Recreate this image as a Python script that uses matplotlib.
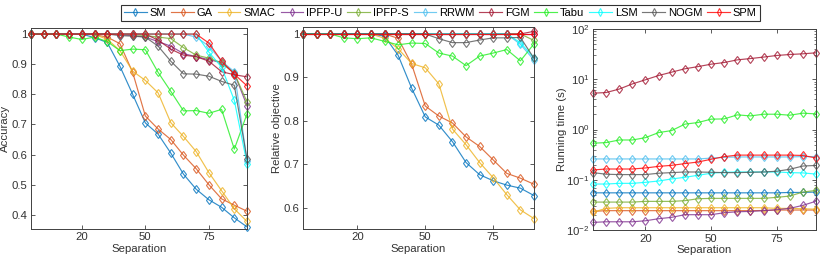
import numpy as np
import matplotlib
matplotlib.use("Agg")
import matplotlib.pyplot as plt

plt.rcParams['font.family'] = ['Liberation Sans', 'DejaVu Sans']

# ---------------- data ----------------
sep_idx = np.arange(1, 19)
xtick_pos = [5, 10, 15]
xtick_labels = ['20', '50', '75']

methods = ['SM', 'GA', 'SMAC', 'IPFP-U', 'IPFP-S', 'RRWM', 'FGM', 'Tabu', 'LSM', 'NOGM', 'SPM']
colors = ['#0072BD', '#D95319', '#EDB120', '#7E2F8E', '#77AC30', '#4DBEEE',
          '#A2142F', '#22EE22', '#00FFFF', '#555555', '#FF0000']

acc_SM = [1, 1, 1, 1, 1, 0.988, 0.972, 0.893, 0.80, 0.705, 0.668, 0.605, 0.535, 0.485, 0.45, 0.425, 0.39, 0.36]
acc_GA = [1, 1, 1, 1, 1, 0.998, 0.99, 0.968, 0.873, 0.728, 0.685, 0.65, 0.598, 0.553, 0.50, 0.453, 0.432, 0.412]
acc_SMAC = [1, 1, 1, 1, 1, 0.998, 0.983, 0.945, 0.877, 0.846, 0.805, 0.706, 0.66, 0.61, 0.54, 0.48, 0.42, 0.378]
acc_IPFPU = [1, 1, 1, 1, 1, 1, 1, 0.998, 0.995, 0.99, 0.975, 0.96, 0.935, 0.925, 0.915, 0.905, 0.87, 0.762]
acc_IPFPS = [1, 1, 1, 1, 1, 1, 1, 1, 0.998, 0.995, 0.99, 0.985, 0.955, 0.93, 0.92, 0.905, 0.87, 0.775]
acc_RRWM = [1, 1, 1, 1, 1, 1, 1, 1, 1, 1, 1, 1, 1, 0.99, 0.96, 0.91, 0.875, 0.58]
acc_FGM = [1, 1, 1, 1, 1, 1, 1, 1, 1, 1, 0.98, 0.95, 0.93, 0.925, 0.91, 0.875, 0.865, 0.858]
acc_Tabu = [1, 1, 1, 0.99, 0.982, 0.99, 0.975, 0.945, 0.95, 0.948, 0.873, 0.81, 0.745, 0.746, 0.737, 0.75, 0.618, 0.735]
acc_LSM = [1, 1, 1, 1, 1, 1, 1, 1, 1, 1, 1, 1, 1, 1, 0.94, 0.89, 0.78, 0.57]
acc_NOGM = [1, 1, 1, 1, 1, 1, 1, 0.995, 0.993, 0.99, 0.96, 0.91, 0.868, 0.867, 0.86, 0.843, 0.83, 0.585]
acc_SPM = [1, 1, 1, 1, 1, 1, 1, 1, 1, 1, 1, 1, 1, 1, 0.97, 0.91, 0.867, 0.828]

obj_SM = [1, 1, 1, 1, 1, 1, 0.995, 0.951, 0.875, 0.809, 0.79, 0.752, 0.704, 0.676, 0.662, 0.652, 0.645, 0.628]
obj_GA = [1, 1, 1, 1, 1, 1, 1, 0.99, 0.93, 0.834, 0.811, 0.795, 0.763, 0.741, 0.71, 0.679, 0.668, 0.654]
obj_SMAC = [1, 1, 1, 1, 1, 1, 0.99, 0.966, 0.932, 0.922, 0.885, 0.781, 0.745, 0.704, 0.669, 0.63, 0.595, 0.575]
obj_IPFPU = [1, 1, 1, 1, 1, 1, 1, 1, 1, 1, 1, 1, 1, 1, 1, 1, 1, 1.0]
obj_IPFPS = [1, 1, 1, 1, 1, 1, 1, 1, 1, 1, 1, 1, 1, 1, 1, 1, 1, 0.985]
obj_RRWM = [1, 1, 1, 1, 1, 1, 1, 1, 1, 1, 1, 1, 1, 1, 1, 1, 0.976, 0.94]
obj_FGM = [1, 1, 1, 1, 1, 1, 1, 1, 1, 1, 1, 1, 1, 1, 1, 1, 1, 1.006]
obj_Tabu = [1, 1, 1, 0.991, 0.989, 0.991, 0.983, 0.975, 0.979, 0.978, 0.956, 0.949, 0.927, 0.949, 0.956, 0.964, 0.938, 0.977]
obj_LSM = [1, 1, 1, 1, 1, 1, 1, 1, 1, 1, 1, 1, 1, 1, 1, 1, 0.98, 0.945]
obj_NOGM = [1, 1, 1, 1, 1, 1, 1, 1, 1, 1, 0.989, 0.98, 0.98, 0.986, 0.991, 0.991, 0.992, 0.944]
obj_SPM = [1, 1, 1, 1, 1, 1, 1, 1, 1, 1, 1, 1, 1, 1, 1, 1, 1, 1]

rt_SM = [0.055, 0.055, 0.055, 0.055, 0.055, 0.055, 0.055, 0.055, 0.055, 0.055, 0.055, 0.055, 0.055, 0.055, 0.055, 0.056, 0.056, 0.057]
rt_GA = [0.0235, 0.0243, 0.0243, 0.0243, 0.0243, 0.0243, 0.0243, 0.0243, 0.0243, 0.0243, 0.0243, 0.0243, 0.0243, 0.0245, 0.025, 0.025, 0.025, 0.025]
rt_SMAC = [0.0226, 0.027, 0.0278, 0.0278, 0.0278, 0.0278, 0.0278, 0.0278, 0.0278, 0.0278, 0.0278, 0.0278, 0.0278, 0.0278, 0.027, 0.027, 0.0265, 0.026]
rt_IPFPU = [0.0142, 0.0146, 0.0146, 0.0146, 0.0153, 0.0168, 0.0179, 0.0202, 0.0202, 0.0202, 0.0221, 0.0231, 0.0235, 0.0243, 0.0254, 0.027, 0.031, 0.0375]
rt_IPFPS = [0.036, 0.036, 0.036, 0.036, 0.0372, 0.0372, 0.0372, 0.0384, 0.042, 0.0427, 0.0427, 0.0427, 0.0427, 0.0427, 0.0447, 0.0475, 0.057, 0.0615]
rt_RRWM = [0.26, 0.26, 0.26, 0.26, 0.26, 0.26, 0.26, 0.26, 0.26, 0.27, 0.28, 0.285, 0.285, 0.285, 0.285, 0.285, 0.29, 0.29]
rt_FGM = [5.3, 5.45, 6.4, 8.1, 9.8, 11.9, 13.9, 16.2, 17.9, 20.0, 21.6, 24.4, 25.9, 27.7, 29.8, 31.2, 32.2, 33.7]
rt_Tabu = [0.535, 0.55, 0.62, 0.62, 0.69, 0.87, 0.955, 1.28, 1.38, 1.61, 1.63, 1.96, 1.87, 2.02, 2.02, 1.93, 2.12, 2.05]
rt_LSM = [0.0824, 0.0824, 0.085, 0.085, 0.089, 0.0946, 0.104, 0.112, 0.123, 0.135, 0.141, 0.143, 0.143, 0.143, 0.143, 0.139, 0.137, 0.13]
rt_NOGM = [0.139, 0.129, 0.127, 0.127, 0.127, 0.135, 0.139, 0.143, 0.143, 0.141, 0.139, 0.139, 0.141, 0.143, 0.148, 0.162, 0.188, 0.193]
rt_SPM = [0.157, 0.164, 0.164, 0.164, 0.172, 0.185, 0.194, 0.21, 0.226, 0.256, 0.289, 0.31, 0.31, 0.31, 0.31, 0.31, 0.305, 0.272]

accuracy = [acc_SM, acc_GA, acc_SMAC, acc_IPFPU, acc_IPFPS, acc_RRWM, acc_FGM, acc_Tabu, acc_LSM, acc_NOGM, acc_SPM]
objective = [obj_SM, obj_GA, obj_SMAC, obj_IPFPU, obj_IPFPS, obj_RRWM, obj_FGM, obj_Tabu, obj_LSM, obj_NOGM, obj_SPM]
runtime = [rt_SM, rt_GA, rt_SMAC, rt_IPFPU, rt_IPFPS, rt_RRWM, rt_FGM, rt_Tabu, rt_LSM, rt_NOGM, rt_SPM]

# ---------------- figure ----------------
fig = plt.figure(figsize=(8.22, 2.62), dpi=100)
ax1 = fig.add_axes([0.0377, 0.126, 0.2628, 0.767])
ax2 = fig.add_axes([0.3686, 0.126, 0.2810, 0.771])
ax3 = fig.add_axes([0.7214, 0.122, 0.2713, 0.767])

axcol = '#404040'
txtcol = '#333333'
tickfs = 8.2
labfs = 8.2


def style(ax):
    for s in ax.spines.values():
        s.set_color(axcol)
        s.set_linewidth(0.7)
    ax.tick_params(direction='in', top=True, right=True, length=3, width=0.6,
                   color=axcol, labelcolor=txtcol, labelsize=tickfs, pad=2.5)
    ax.tick_params(which='minor', direction='in', top=True, right=True, length=1.8,
                   width=0.5, color=axcol)
    ax.set_xlim(1, 18)
    ax.set_xticks(xtick_pos)
    ax.set_xticklabels(xtick_labels)
    ax.set_xlabel('Separation', fontsize=labfs, color=txtcol, labelpad=1)


def draw(ax, data):
    lines = []
    for name, c, vals in zip(methods, colors, data):
        ln, = ax.plot(sep_idx, vals, color=c, lw=0.85, marker='d', ms=4.5,
                      mfc='none', mec=c, mew=0.8, alpha=0.8, clip_on=False, label=name)
        lines.append(ln)
    return lines


handles = draw(ax1, accuracy)
style(ax1)
ax1.set_ylim(0.353, 1.02)
ax1.set_yticks([0.4, 0.5, 0.6, 0.7, 0.8, 0.9, 1.0])
ax1.set_yticklabels(['0.4', '0.5', '0.6', '0.7', '0.8', '0.9', '1'])
ax1.set_ylabel('Accuracy', fontsize=labfs, color=txtcol)
ax1.yaxis.set_label_coords(-0.097, 0.5)

draw(ax2, objective)
style(ax2)
ax2.set_ylim(0.551, 1.016)
ax2.set_yticks([0.6, 0.7, 0.8, 0.9, 1.0])
ax2.set_yticklabels(['0.6', '0.7', '0.8', '0.9', '1'])
ax2.set_ylabel('Relative objective', fontsize=labfs, color=txtcol)
ax2.yaxis.set_label_coords(-0.092, 0.5)

draw(ax3, runtime)
ax3.set_yscale('log')
style(ax3)
ax3.set_ylim(1e-2, 1e2)
ax3.set_ylabel('Running time (s)', fontsize=labfs, color=txtcol)
ax3.yaxis.set_label_coords(-0.115, 0.5)

leg = fig.legend(handles=handles, loc='center', bbox_to_anchor=(0.536, 0.951), ncol=11,
                 fontsize=8, frameon=True, fancybox=False, handlelength=2.0,
                 handletextpad=0.3, columnspacing=0.45, borderpad=0.3,
                 borderaxespad=0.0, markerscale=0.8)
leg.get_frame().set_edgecolor('black')
leg.get_frame().set_linewidth(0.8)

fig.savefig('out.png', dpi=100)
